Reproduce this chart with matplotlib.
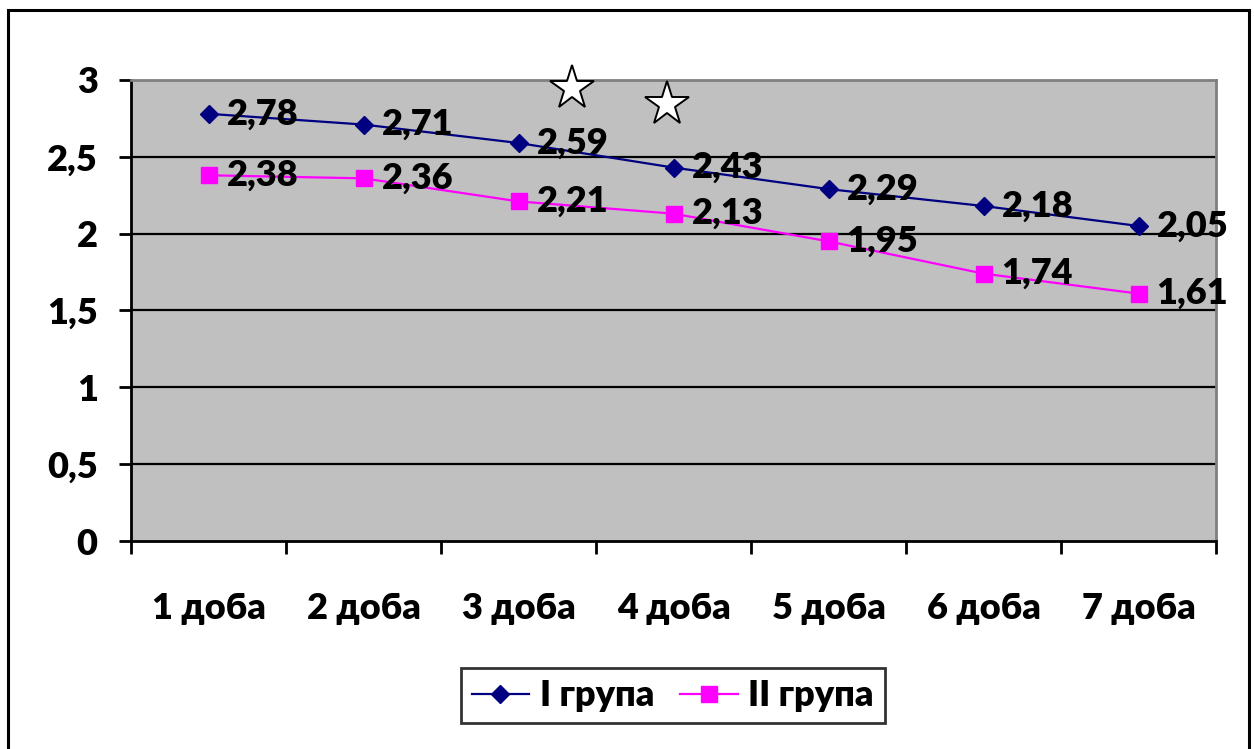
import matplotlib.pyplot as plt
from matplotlib.patches import Rectangle
from matplotlib.lines import Line2D
import numpy as np

plt.rcParams['font.family'] = ['Lato', 'Open Sans', 'DejaVu Sans']

days = ['1 доба', '2 доба', '3 доба', '4 доба', '5 доба', '6 доба', '7 доба']
group1 = [2.78, 2.71, 2.59, 2.43, 2.29, 2.18, 2.05]
group2 = [2.38, 2.36, 2.21, 2.13, 1.95, 1.74, 1.61]
group_names = ['I група', 'II група']
y_ticks = [0, 0.5, 1, 1.5, 2, 2.5, 3]
y_labels = ['0', '0,5', '1', '1,5', '2', '2,5', '3']

fs = 26
fw = 'heavy'

fig = plt.figure(figsize=(12.54, 7.49), dpi=100)
ax = fig.add_axes([0.1045, 0.2777, 0.8652, 0.6155])
ax.set_facecolor('#C0C0C0')

# outer frame of the chart
fig.patches.append(Rectangle((0.0065, -0.05), 0.9895, 1.036, transform=fig.transFigure,
                             fill=False, edgecolor='black', linewidth=2.2))

x = np.arange(len(days))
ax.set_xlim(-0.5, len(days) - 0.5)
ax.set_ylim(0, 3)

for yv in y_ticks[1:-1]:
    ax.axhline(yv, color='black', lw=1.6, zorder=1)

ax.plot(x, group1, color='#000080', lw=1.6, marker='D', ms=9, zorder=3)
ax.plot(x, group2, color='#FF00FF', lw=1.6, marker='s', ms=11, zorder=3)

for series in (group1, group2):
    for xi, v in zip(x, series):
        ax.annotate(f'{v:.2f}'.replace('.', ','), (xi, v), xytext=(13, 0),
                    textcoords='offset points', va='center', ha='left',
                    fontsize=fs, fontweight=fw, zorder=4, annotation_clip=False)

# significance stars
for sx, sy in [(0.406, 0.982), (0.494, 0.947)]:
    ax.plot(sx, sy, marker='*', ms=33, mfc='white', mec='black', mew=1.4,
            transform=ax.transAxes, clip_on=False, zorder=5)

ax.set_yticks(y_ticks)
ax.set_yticklabels(y_labels, fontsize=fs, fontweight=fw)
ax.tick_params(axis='y', length=9, width=2, pad=15)

ax.set_xticks(np.arange(len(days) + 1) - 0.5)
ax.set_xticklabels([])
ax.tick_params(axis='x', which='major', length=9, width=2)
ax.set_xticks(x, minor=True)
ax.set_xticklabels(days, minor=True, fontsize=fs, fontweight=fw)
ax.tick_params(axis='x', which='minor', length=0, pad=37)

for s in ['left', 'bottom']:
    ax.spines[s].set_linewidth(2)
    ax.spines[s].set_color('black')
for s in ['top', 'right']:
    ax.spines[s].set_linewidth(2)
    ax.spines[s].set_color('#808080')

handles = [
    Line2D([], [], color='#000080', lw=1.6, marker='D', ms=9),
    Line2D([], [], color='#FF00FF', lw=1.6, marker='s', ms=11),
]
leg = fig.legend(handles, group_names, loc='center', bbox_to_anchor=(0.5365, 0.071),
                 ncol=2, frameon=True, fancybox=False, edgecolor='black',
                 prop={'size': fs, 'weight': fw}, handlelength=1.6,
                 columnspacing=0.7, handletextpad=0.3, borderpad=0.3,
                 borderaxespad=0.2)
leg.get_frame().set_linewidth(2)

fig.savefig('out.png', dpi=100)
